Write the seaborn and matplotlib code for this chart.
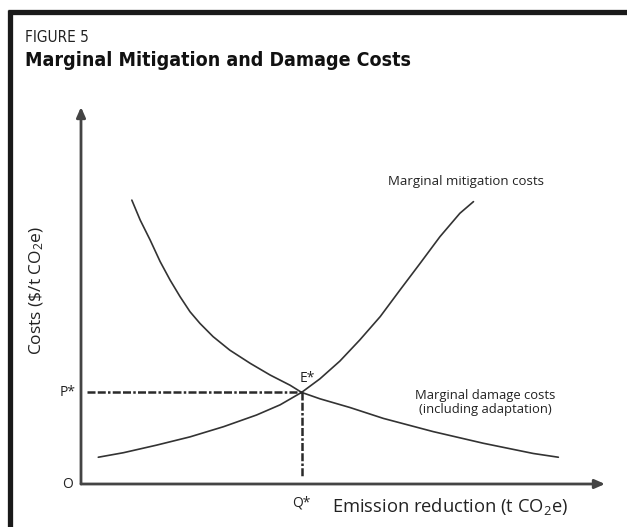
import matplotlib
matplotlib.use('Agg')
import matplotlib.pyplot as plt
import seaborn as sns
import pandas as pd
from matplotlib.lines import Line2D

sns.set_theme(style='white')
plt.rcParams['font.family'] = ['Open Sans', 'DejaVu Sans']
plt.rcParams['mathtext.fontset'] = 'custom'
plt.rcParams['mathtext.rm'] = 'Open Sans'
plt.rcParams['mathtext.default'] = 'regular'

# curves (x = emission reduction, y = cost, arbitrary units)
mitigation_x = [3.3, 8.1, 14.4, 20.8, 27.2, 33.5, 38.0, 42.1, 45.6, 49.4, 53.2,
                57.1, 60.9, 64.7, 68.5, 72.3, 74.9]
mitigation_y = [7.1, 8.3, 10.3, 12.5, 15.2, 18.3, 21.0, 24.3, 27.9, 32.6, 38.2,
                44.4, 51.5, 58.5, 65.6, 71.8, 74.9]

damage_x = [9.7, 11.3, 13.2, 15.1, 17.0, 18.9, 20.8, 22.7, 25.2, 28.4, 32.3,
            36.1, 39.9, 42.1, 45.6, 51.3, 57.7, 67.2, 76.8, 86.3, 91.1]
damage_y = [75.3, 70.0, 64.7, 59.0, 54.1, 49.7, 45.7, 42.6, 39.1, 35.5, 32.0,
            28.9, 26.2, 24.3, 22.6, 20.3, 17.4, 13.9, 10.8, 8.1, 7.1]

q_star = 42.1
p_star = 24.3

curve_color = '#333333'
axis_color = '#444444'
text_color = '#222222'

W, H = 627, 527
fig = plt.figure(figsize=(W / 100, H / 100), dpi=100)
ax = fig.add_axes([81 / W, (H - 484) / H, 524 / W, 377 / H])

mit = pd.DataFrame({'x': mitigation_x, 'y': mitigation_y})
dam = pd.DataFrame({'x': damage_x, 'y': damage_y})
sns.lineplot(data=mit, x='x', y='y', ax=ax, color=curve_color, lw=1.2, sort=False)
sns.lineplot(data=dam, x='x', y='y', ax=ax, color=curve_color, lw=1.2, sort=False)

# guide lines to the equilibrium
dash = (0, (3.2, 0.9, 3.2, 0.9, 1.0, 0.9))
ax.plot([1.1, q_star], [p_star, p_star], color='#2a2a2a', lw=1.8, linestyle=dash)
ax.plot([q_star, q_star], [p_star, 1.6], color='#2a2a2a', lw=1.8, linestyle=dash)

ax.set_xlim(0, 100)
ax.set_ylim(0, 100)
ax.set_xticks([])
ax.set_yticks([])
for s in ax.spines.values():
    s.set_visible(False)
ax.set_xlabel('')
ax.set_ylabel('')

arrow = dict(arrowstyle='-|>,head_length=0.5,head_width=0.22', color=axis_color, lw=2,
             shrinkA=0, shrinkB=0)
ax.annotate('', xy=(100, 0), xytext=(0, 0), arrowprops=arrow, annotation_clip=False)
ax.annotate('', xy=(0, 100), xytext=(0, 0), arrowprops=arrow, annotation_clip=False)

# labels
ax.text(-1.0, p_star, 'P*', ha='right', va='center', fontsize=10, color=text_color)
ax.text(-1.6, 0, 'O', ha='right', va='center', fontsize=10, color=text_color)
ax.text(q_star, -3.0, 'Q*', ha='center', va='top', fontsize=10, color=text_color)
ax.text(q_star + 1.0, p_star + 1.8, 'E*', ha='center', va='bottom', fontsize=10,
        color=text_color)
ax.text(58.6, 80.2, 'Marginal mitigation costs', ha='left', va='center', fontsize=9.5,
        color=text_color)
ax.text(77.2, 21.6, 'Marginal damage costs\n(including adaptation)', ha='center',
        va='center', fontsize=9.4, color=text_color, linespacing=1.1)
ax.text(70.4, -6.1, 'Emission reduction (t CO$_2$e)', ha='center', va='center',
        fontsize=13.2, color=text_color)
ax.text(-8.4, 51.2, r'Costs (\$/t CO$_2$e)', ha='center', va='center', rotation=90,
        fontsize=12.5, color=text_color)

# header and frame
fig.text(25 / W, 1 - 37.5 / H, 'FIGURE 5', ha='left', va='center', fontsize=11,
         color=text_color, family='DejaVu Sans', fontstretch='condensed')
fig.text(25 / W, 1 - 60 / H, 'Marginal Mitigation and Damage Costs', ha='left',
         va='center', fontsize=14, fontweight='bold', color='#111111',
         family='DejaVu Sans', fontstretch='condensed')
fig.add_artist(Line2D([8 / W, 1], [1 - 12 / H, 1 - 12 / H], color='#1a1a1a', lw=3.8,
                      solid_capstyle='butt'))
fig.add_artist(Line2D([10 / W, 10 / W], [1 - 10 / H, 0], color='#1a1a1a', lw=3.8,
                      solid_capstyle='butt'))

fig.savefig('out.png', dpi=100)
